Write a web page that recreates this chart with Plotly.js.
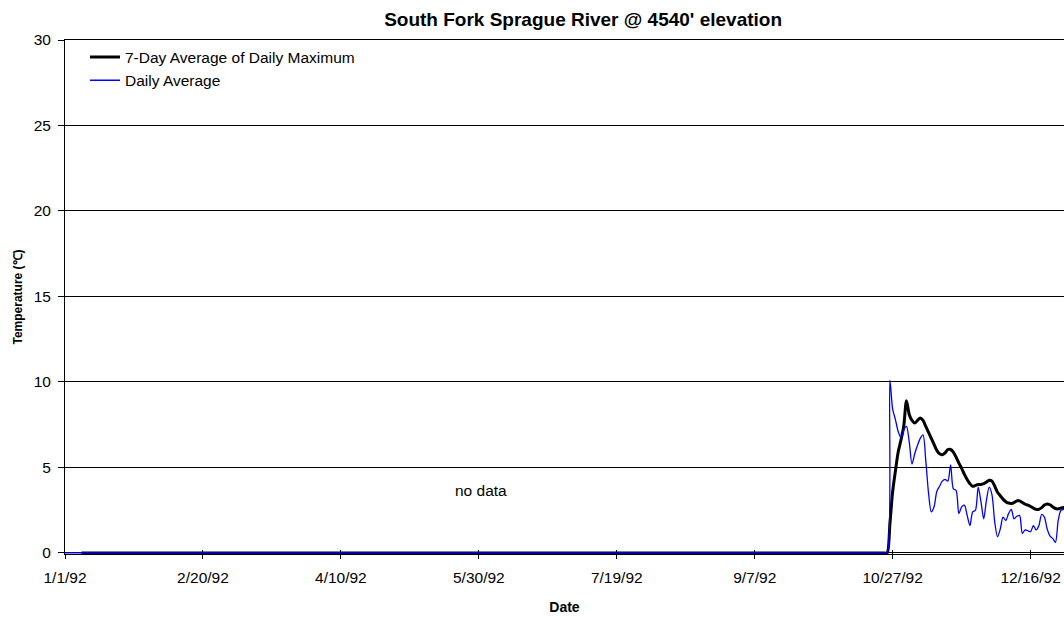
<!DOCTYPE html>
<html>
<head>
<meta charset="utf-8">
<script src="https://cdn.plot.ly/plotly-3.0.1.min.js"></script>
<style>
html,body{margin:0;padding:0;background:#fff;}
#chart{width:1064px;height:617px;}
</style>
</head>
<body>
<div id="chart"></div>
<script>
// ---- data ----
const chartTitle = "South Fork Sprague River @ 4540' elevation";
const xTitle = "Date";
const yTitle = "Temperature (\u2103)";
const seriesNames = ["7-Day Average of Daily Maximum", "Daily Average"];
const noDataLabel = "no data";

// no-data period (plotted as zero)
const dailyAvgLeadDates = ["1992-01-01", "1992-10-24"];
const dailyAvgLeadValues = [0, 0];
const maxAvg7LeadDates = ["1992-01-07", "1992-10-24"];
const maxAvg7LeadValues = [0, 0];

// logged period, daily
const seasonDates = [
  "1992-10-25","1992-10-26","1992-10-27","1992-10-28","1992-10-29","1992-10-30","1992-10-31",
  "1992-11-01","1992-11-02","1992-11-03","1992-11-04","1992-11-05","1992-11-06","1992-11-07",
  "1992-11-08","1992-11-09","1992-11-10","1992-11-11","1992-11-12","1992-11-13","1992-11-14",
  "1992-11-15","1992-11-16","1992-11-17","1992-11-18","1992-11-19","1992-11-20","1992-11-21",
  "1992-11-22","1992-11-23","1992-11-24","1992-11-25","1992-11-26","1992-11-27","1992-11-28",
  "1992-11-29","1992-11-30",
  "1992-12-01","1992-12-02","1992-12-03","1992-12-04","1992-12-05","1992-12-06","1992-12-07",
  "1992-12-08","1992-12-09","1992-12-10","1992-12-11","1992-12-12","1992-12-13","1992-12-14",
  "1992-12-15","1992-12-16","1992-12-17","1992-12-18","1992-12-19","1992-12-20","1992-12-21",
  "1992-12-22","1992-12-23","1992-12-24","1992-12-25","1992-12-26","1992-12-27","1992-12-28",
  "1992-12-29"
];
const dailyAvg = [
  0, 10.1, 8.4, 7.8, 7.1, 6.75, 7.2,
  7.4, 6.5, 5.2, 5.8, 6.3, 6.7, 6.9,
  5.4, 3.5, 2.4, 2.7, 3.6, 3.9, 4.2,
  4.3, 4.2, 5.15, 3.75, 3.65, 2.3, 2.7,
  2.8, 2.2, 1.6, 2.4, 2.5, 3.85, 3.0,
  2.0, 3.1,
  3.85, 3.4, 1.8, 0.95, 1.4, 2.1, 1.9,
  2.3, 2.55, 2.0, 2.15, 2.2, 1.15, 1.35,
  1.3, 1.25, 1.6, 1.35, 1.6, 2.25, 2.1,
  1.4, 1.0, 0.85, 0.62, 1.9, 2.5, 2.55,
  2.6
];
const maxAvg7 = [
  0, 1.7, 3.6, 4.8, 5.9, 6.6, 7.4,
  8.9, 8.1, 7.75, 7.6, 7.75, 7.9, 7.75,
  7.4, 7.05, 6.7, 6.35, 6.0, 5.8, 5.75,
  5.85, 6.05, 6.05, 5.9, 5.6, 5.25, 4.95,
  4.6, 4.3, 4.05, 3.9, 3.95, 4.0, 4.0,
  4.05, 4.15,
  4.25, 4.2, 3.9, 3.55, 3.35, 3.15, 3.0,
  2.92, 2.9, 2.95, 3.05, 3.05, 2.95, 2.85,
  2.8, 2.72, 2.62, 2.55, 2.55, 2.65, 2.8,
  2.87, 2.82, 2.7, 2.6, 2.58, 2.63, 2.66,
  2.66
];
const yTickValues = [0, 5, 10, 15, 20, 25, 30];
const xTickStart = "1992-01-01";
const xTickStepDays = 50;
const noDataPos = {x: "1992-05-30 17:00", y: 3.64};

// ---- chart ----
const FONT = '"Liberation Sans", Arial, Helvetica, sans-serif';
const XRANGE = ['1992-01-01 00:00', '1992-12-28 02:24'];

const traceMax = {
  type: 'scatter', mode: 'lines', name: seriesNames[0],
  x: maxAvg7LeadDates.concat(seasonDates),
  y: maxAvg7LeadValues.concat(maxAvg7),
  line: {color: '#000000', width: 3, shape: 'spline', smoothing: 0.8},
  hoverinfo: 'x+y'
};
const traceAvg = {
  type: 'scatter', mode: 'lines', name: seriesNames[1],
  x: dailyAvgLeadDates.concat(seasonDates),
  y: dailyAvgLeadValues.concat(dailyAvg),
  line: {color: '#0000FF', width: 1.3, shape: 'spline', smoothing: 0.8},
  hoverinfo: 'x+y'
};
// invisible trace that activates the overlaid x-axis (gives crossing ticks)
const traceTicks = {
  type: 'scatter', mode: 'lines', x: [xTickStart], y: [0], xaxis: 'x2', yaxis: 'y',
  showlegend: false, hoverinfo: 'skip', line: {width: 0}
};

const layout = {
  width: 1064, height: 617,
  margin: {l: 65, r: 0, t: 40, b: 63, pad: 0},
  paper_bgcolor: '#ffffff', plot_bgcolor: '#ffffff',
  font: {family: FONT, size: 15.5, color: '#000000'},
  showlegend: true,
  title: {
    text: '<b>' + chartTitle + '</b>',
    font: {family: FONT, size: 19, color: '#000000'},
    xref: 'container', yref: 'container',
    x: 0.548, xanchor: 'center', y: 0.969, yanchor: 'middle'
  },
  xaxis: {
    type: 'date', range: XRANGE,
    tick0: xTickStart, dtick: xTickStepDays * 86400000,
    tickformat: '%-m/%-d/%y',
    ticks: 'outside', ticklen: 4, tickwidth: 1, tickcolor: '#000000',
    showline: true, linecolor: '#000000', linewidth: 1, mirror: true,
    layer: 'below traces',
    showgrid: false, zeroline: false,
    tickfont: {family: FONT, size: 15.5, color: '#000000'},
    ticklabelstandoff: 5,
    title: {text: '<b>' + xTitle + '</b>', font: {family: FONT, size: 14, color: '#000000'}, standoff: 17},
    fixedrange: true
  },
  xaxis2: {
    type: 'date', overlaying: 'x', matches: 'x', anchor: 'y', side: 'bottom',
    range: XRANGE,
    tick0: xTickStart, dtick: xTickStepDays * 86400000,
    ticks: 'inside', ticklen: 4, tickwidth: 1, tickcolor: '#000000',
    layer: 'below traces',
    showticklabels: false, showgrid: false, zeroline: false, showline: false
  },
  yaxis: {
    range: [-0.06, 30],
    tickvals: yTickValues,
    ticks: 'outside', ticklen: 6, tickwidth: 1, tickcolor: '#000000',
    showline: true, linecolor: '#000000', linewidth: 1,
    showgrid: true, gridcolor: '#000000', gridwidth: 1,
    zeroline: false,
    tickfont: {family: FONT, size: 15.5, color: '#000000'},
    ticklabelstandoff: 4,
    title: {text: '<b>' + yTitle + '</b>', font: {family: FONT, size: 12, color: '#000000'}, standoff: 8},
    fixedrange: true
  },
  legend: {
    x: 0.02, xanchor: 'left', xref: 'paper',
    y: 0.999, yanchor: 'top', yref: 'paper',
    bgcolor: 'rgba(0,0,0,0)', borderwidth: 0,
    font: {family: FONT, size: 15.5, color: '#000000'},
    traceorder: 'normal', tracegroupgap: 0
  },
  annotations: [{
    x: noDataPos.x, y: noDataPos.y, xref: 'x', yref: 'y',
    text: noDataLabel, showarrow: false,
    font: {family: FONT, size: 15.5, color: '#000000'},
    xanchor: 'center', yanchor: 'middle'
  }]
};

Plotly.newPlot('chart', [traceMax, traceAvg, traceTicks], layout, {displayModeBar: false, staticPlot: true});
</script>
</body>
</html>
